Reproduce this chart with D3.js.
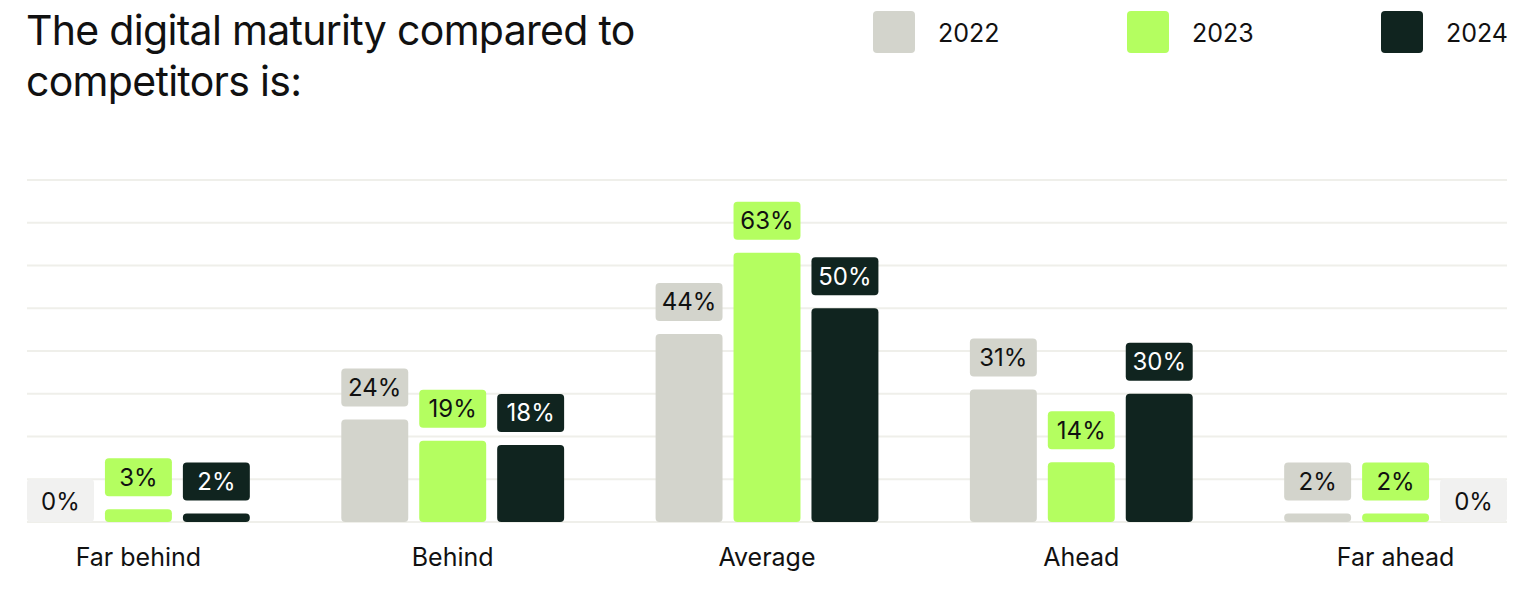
<!DOCTYPE html>
<html><head><meta charset="utf-8">
<script src="https://cdn.jsdelivr.net/npm/d3@7"></script>
<style>
html,body{margin:0;padding:0;background:#fff;}
svg text{font-family:Inter,"Liberation Sans",sans-serif;}
</style></head>
<body>
<svg id="c" width="1520" height="602"></svg>
<script>
const categories = ["Far behind","Behind","Average","Ahead","Far ahead"];
const years = ["2022","2023","2024"];
const values2022 = [0,24,44,31,2];
const values2023 = [3,19,63,14,2];
const values2024 = [2,18,50,30,0];
const yTicks = [0,10,20,30,40,50,60,70,80];
const title = ["The digital maturity compared to","competitors is:"];

(function(){
const series = [values2022, values2023, values2024];
const colors = {"2022":"#d3d4cc","2023":"#b4fe60","2024":"#10241f"};
const textColors = {"2022":"#111","2023":"#111","2024":"#fff"};

const svg = d3.select("#c");
const left = 27, right = 1507, base = 522, topY = 180;

const x = d3.scaleBand().domain(categories).range([left,right]).paddingInner(0.291).paddingOuter(0);
const xi = d3.scaleBand().domain(years).range([0,x.bandwidth()]).paddingInner(0.141).paddingOuter(0);
const y = d3.scaleLinear().domain([0,80]).range([base,topY]);

// gridlines
svg.append("g").selectAll("line").data(yTicks).join("line")
  .attr("x1",left).attr("x2",right)
  .attr("y1",d=>y(d)).attr("y2",d=>y(d))
  .attr("stroke","#efefea").attr("stroke-width",2);

// title
const tt = svg.append("text").attr("x",26).attr("y",45)
  .attr("font-size",41).attr("fill","#111").attr("letter-spacing","-0.7");
title.forEach((t,i)=>tt.append("tspan").attr("x",26).attr("dy",i?51:0).text(t));

// legend
const legX = [873,1127,1381];
years.forEach((yr,i)=>{
  svg.append("rect").attr("x",legX[i]).attr("y",11).attr("width",42).attr("height",42)
    .attr("rx",4).attr("fill",colors[yr]);
  svg.append("text").attr("x",legX[i]+65).attr("y",33).attr("dy","0.35em")
    .attr("font-size",25).attr("fill","#111").text(yr);
});

// bars
const rows = [];
categories.forEach((c,ci)=>years.forEach((yr,yi)=>rows.push({c,yr,v:series[yi][ci]})));

const g = svg.append("g");
const gap = 13, lh = 38;
rows.forEach(d=>{
  const bx = x(d.c)+xi(d.yr), bw = xi.bandwidth();
  if(d.v>0){
    const h = base - y(d.v);
    const r = Math.min(4,h/2);
    g.append("rect").attr("x",bx).attr("y",y(d.v)).attr("width",bw).attr("height",h)
      .attr("rx",r).attr("fill",colors[d.yr]);
    const ly = y(d.v)-gap-lh;
    g.append("rect").attr("x",bx).attr("y",ly).attr("width",bw).attr("height",lh)
      .attr("rx",4).attr("fill",colors[d.yr]);
    g.append("text").attr("x",bx+bw/2).attr("y",ly+lh/2).attr("dy","0.35em")
      .attr("text-anchor","middle").attr("font-size",24).attr("fill",textColors[d.yr])
      .text(d.v+"%");
  } else {
    const ly = base-43;
    g.append("rect").attr("x",bx).attr("y",ly).attr("width",bw).attr("height",43)
      .attr("rx",4).attr("fill","#f1f1f0");
    g.append("text").attr("x",bx+bw/2).attr("y",ly+23).attr("dy","0.35em")
      .attr("text-anchor","middle").attr("font-size",24).attr("fill","#111")
      .text(d.v+"%");
  }
});

// category labels
svg.append("g").selectAll("text").data(categories).join("text")
  .attr("x",d=>x(d)+x.bandwidth()/2).attr("y",557).attr("dy","0.35em")
  .attr("text-anchor","middle").attr("font-size",25).attr("fill","#111").text(d=>d);
})();
</script>
</body></html>
